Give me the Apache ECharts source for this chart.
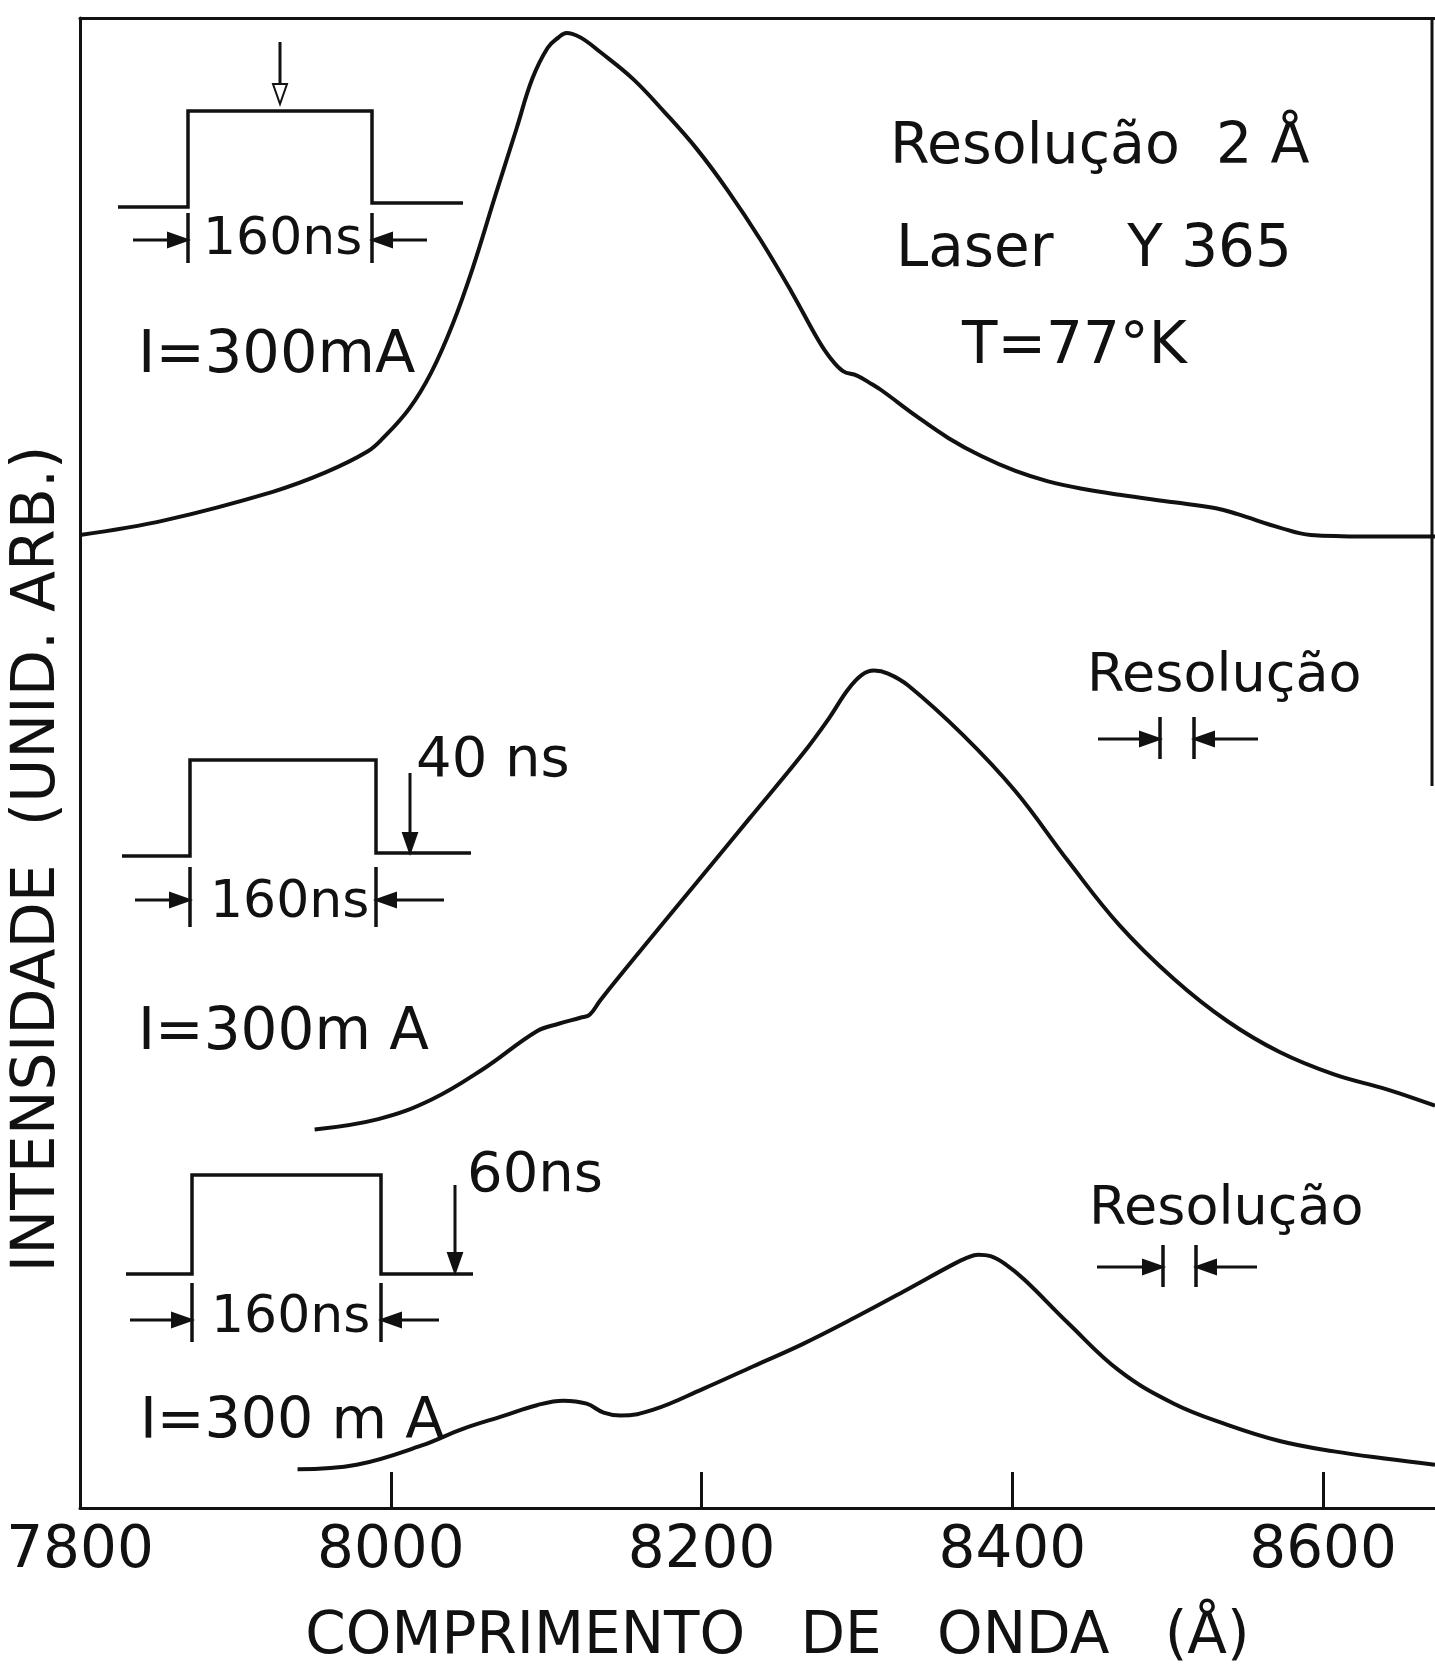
<!DOCTYPE html>
<html>
<head>
<meta charset="utf-8">
<title>Laser Y365 - espectros</title>
<script src="https://cdn.jsdelivr.net/npm/echarts@6.0.0/dist/echarts.min.js"></script>
<style>
html,body{margin:0;padding:0;background:#fff}
#container{width:1435px;height:1672px}
</style>
</head>
<body>
<div id="container"></div>
<script>
// comprimento de onda (A) e intensidade (unid. arb.)
var wlTop = [7800,7855,7924,7958,7985,7995,8012,8026,8040,8053,8067,8081,8091,8101,8108,8113,8122,8135,8156,8176,8197,8217,8238,8258,8275,8282,8291,8300,8310,8316,8338,8359,8380,8402,8423,8445,8469,8504,8531,8545,8572,8592,8627,8672];
var intTop = [65.3,66.3,68.2,69.5,70.9,71.8,73.8,76.2,79.5,83.3,88.0,92.6,95.9,98.0,98.7,99.0,98.7,97.7,95.9,93.7,91.2,88.4,85.1,81.6,78.4,77.3,76.3,76.0,75.4,75.0,73.3,71.8,70.6,69.6,68.9,68.4,68.0,67.5,67.1,66.7,65.8,65.3,65.2,65.2];

var wlMid = [7951,7992,8026,8060,8094,8108,8122,8128,8135,8163,8197,8231,8265,8282,8294,8303,8311,8320,8333,8368,8402,8436,8469,8504,8538,8572,8607,8641,8672];
var intMid = [25.4,26.1,27.4,29.5,32.0,32.5,32.9,33.1,34.1,37.7,42.0,46.3,50.6,53.0,54.9,55.9,56.2,56.0,55.2,51.9,48.1,43.4,39.1,35.5,32.7,30.6,29.1,28.1,27.0];

var wlBot = [7940,7978,8020,8046,8073,8094,8111,8126,8137,8148,8169,8201,8233,8265,8299,8333,8361,8371,8378,8386,8395,8408,8436,8469,8504,8538,8572,8607,8641,8672];
var intBot = [2.6,2.9,4.2,5.3,6.2,6.9,7.2,7.0,6.4,6.2,6.6,8.0,9.5,11.0,12.8,14.7,16.3,16.8,17.0,16.9,16.4,15.3,12.4,9.2,7.0,5.6,4.5,3.8,3.3,2.9];

var xTicks = [7800,8000,8200,8400,8600];

var blk = '#111';
var fnt = '"DejaVu Sans", sans-serif';

function pares(xs, ys){
	var out = [];
	for (var i = 0; i < xs.length; i++) {
		out.push([xs[i], ys[i]]);
	}
	return out;
}
function seg(x1,y1,x2,y2,w){
	return {type:'line', shape:{x1:x1,y1:y1,x2:x2,y2:y2}, style:{stroke:blk, lineWidth:w||3.5}};
}
function poly(pts){
	return {type:'polyline', shape:{points:pts}, style:{stroke:blk, lineWidth:3.5, fill:null}};
}
function head(x,y,dir,oca){
	var L = 20, W = 7, pts;
	if (dir == 'r') pts = [[x,y],[x-L,y-W],[x-L,y+W]];
	if (dir == 'l') pts = [[x,y],[x+L,y-W],[x+L,y+W]];
	if (dir == 'd') pts = [[x,y],[x-W,y-L],[x+W,y-L]];
	return {type:'polygon', shape:{points:pts}, style:{fill: oca ? '#fff' : blk, stroke:blk, lineWidth:2}};
}
function txt(x,y,s,size){
	return {type:'text', x:x, y:y, style:{text:s, fontSize:size, fontFamily:fnt, fill:blk, verticalAlign:'middle', align:'left'}};
}
// largura do pulso: barras, setas e texto
function largura(xa, xb, yTop, yBot, yArr, xl, xr, xt, yt){
	return [
		seg(xa,yTop,xa,yBot), seg(xb,yTop,xb,yBot),
		seg(xl,yArr,xa-18,yArr,3), head(xa,yArr,'r'),
		seg(xr,yArr,xb+18,yArr,3), head(xb,yArr,'l'),
		txt(xt,yt,'160ns',52)
	];
}
function resol(x1, xa, xb, x2, y){
	return [
		seg(x1,y,xa-18,y,3), head(xa,y,'r'), seg(xa,y-22,xa,y+20),
		seg(xb,y-22,xb,y+20), head(xb,y,'l'), seg(x2,y,xb+18,y,3)
	];
}

var graficos = [];
// pulso superior
graficos.push(poly([[118,207],[188,207],[188,111],[372,111],[372,203],[463,203]]));
graficos.push(seg(280,42,280,84,3), head(280,104,'d',true));
graficos = graficos.concat(largura(188,372,213,263,240,133,427,203,240));
graficos.push(txt(138,357,'I=300mA',59));
// pulso do meio
graficos.push(poly([[122,856],[190,856],[190,760],[376,760],[376,853],[471,853]]));
graficos.push(seg(410,773,410,834,3), head(410,853,'d'));
graficos = graficos.concat(largura(190,376,867,927,900,135,444,210,903));
graficos.push(txt(416,761,'40 ns',56));
graficos.push(txt(138,1034,'I=300m A',58));
// pulso inferior
graficos.push(poly([[126,1274],[192,1274],[192,1175],[381,1175],[381,1274],[473,1274]]));
graficos.push(seg(455,1185,455,1254,3), head(455,1273,'d'));
graficos = graficos.concat(largura(192,381,1283,1342,1320,130,439,211,1318));
graficos.push(txt(467,1176,'60ns',56));
graficos.push(txt(140,1423,'I=300 m A',57));
// textos a direita
graficos.push(txt(890,148,'Resolução  2 Å',57));
graficos.push(txt(896,251,'Laser    Y 365',58));
graficos.push(txt(962,348,'T=77°K',58));
graficos.push(txt(1087,677,'Resolução',54));
graficos = graficos.concat(resol(1098,1160,1194,1258,739));
graficos.push(txt(1089,1210,'Resolução',54));
graficos = graficos.concat(resol(1097,1163,1196,1257,1267));
// borda direita
graficos.push(seg(1432,18,1432,786,3));

var myChart = echarts.init(document.getElementById('container'), null, {renderer:'canvas'});
var option = {
	animation: false,
	backgroundColor: '#fff',
	grid: {left:74, right:0, top:18, bottom:160},
	xAxis: [{
		type: 'value',
		min: xTicks[0],
		max: 8672,
		interval: xTicks[1] - xTicks[0],
		name: 'COMPRIMENTO   DE   ONDA   (Å)',
		nameLocation: 'middle',
		nameGap: 101,
		nameTextStyle: {color:blk, fontSize:58, fontFamily:fnt, padding:[0,0,0,40]},
		axisLine: {onZero:false, lineStyle:{color:blk, width:3}},
		axisTick: {inside:true, length:36, lineStyle:{color:blk, width:3}},
		axisLabel: {color:blk, fontSize:58, fontFamily:fnt, margin:15, showMaxLabel:false,
			formatter: function(v){ return xTicks.indexOf(v) >= 0 ? String(v) : ''; }},
		splitLine: {show:false}
	}, {
		type: 'value',
		position: 'top',
		min: xTicks[0],
		max: 8672,
		axisLine: {onZero:false, lineStyle:{color:blk, width:3}},
		axisTick: {show:false},
		axisLabel: {show:false},
		splitLine: {show:false}
	}],
	yAxis: {
		type: 'value',
		min: 0,
		max: 100,
		name: 'INTENSIDADE  (UNID. ARB.)',
		nameLocation: 'middle',
		nameRotate: 90,
		nameGap: 12,
		nameTextStyle: {color:blk, fontSize:60, fontFamily:fnt, padding:[0,192,0,0]},
		axisLine: {show:true, onZero:false, lineStyle:{color:blk, width:3}},
		axisTick: {show:false},
		axisLabel: {show:false},
		splitLine: {show:false}
	},
	series: [
		{name:'sem atraso', type:'line', data:pares(wlTop,intTop)},
		{name:'40 ns', type:'line', data:pares(wlMid,intMid)},
		{name:'60 ns', type:'line', data:pares(wlBot,intBot)}
	].map(function(s){
		s.showSymbol = false;
		s.smooth = 0.4;
		s.lineStyle = {color:blk, width:4};
		s.silent = true;
		return s;
	}),
	graphic: graficos
};
myChart.setOption(option);
</script>
</body>
</html>
